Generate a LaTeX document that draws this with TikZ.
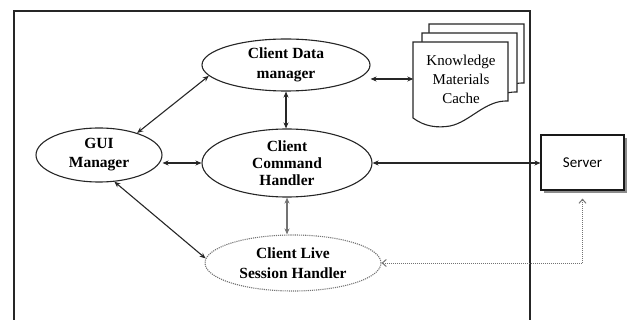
\documentclass[tikz,border=0pt]{standalone}
\usepackage{fontspec}
\setmainfont{Liberation Serif}
\newfontfamily\serverfont{Carlito}
\usetikzlibrary{shapes.geometric,arrows.meta}
\begin{document}
\begin{tikzpicture}[x=1pt,y=-1pt,
  ell/.style={ellipse,draw=black!85,line width=1.1pt,inner sep=0pt,align=center,fill=white},
  tipS/.tip={Stealth[length=6pt,width=5pt]},
  dbl/.style={tipS-tipS,line width=1.1pt,draw=black!85},
  dblgray/.style={tipS-tipS,line width=1.1pt,draw=black!55},
  dotarrow/.style={{Straight Barb[length=4pt,width=7pt]}-{Straight Barb[length=4pt,width=7pt]},densely dotted,line width=1pt,draw=black!55},
  doc/.style={draw=black!85,line width=1.1pt,fill=white}
]
\useasboundingbox (0,0) rectangle (628,320);
% outer frame (runs off the bottom)
\draw[line width=1.3pt,black!85] (14,320) -- (14,11) -- (530,11) -- (530,320);

% knowledge materials cache: stacked documents
\foreach \dx/\dy in {16/18, 9/9, 0/0} {
  \draw[doc,shift={(\dx,-\dy)}] (413,42) -- (508,42) -- (508,101)
    .. controls (485,100) and (470,122) .. (450,126)
    .. controls (438,128) and (425,127) .. (413,118) -- cycle;
}
\node[minimum width=95,minimum height=76,inner sep=0pt,align=center,
  font=\fontsize{15}{19}\selectfont] (kmc) at (461,79) {Knowledge\\Materials\\Cache};

% ellipses
\node[ell,minimum width=168,minimum height=52,font=\bfseries\fontsize{15.5}{20}\selectfont]
  (cdm) at (286,65) {Client Data\\manager};
\node[ell,minimum width=170,minimum height=68,font=\bfseries\fontsize{15.5}{17}\selectfont]
  (cch) at (287,163) {Client\\Command\\Handler};
\node[ell,minimum width=126,minimum height=54,font=\bfseries\fontsize{15.5}{19}\selectfont]
  (gui) at (99,155) {GUI\\Manager};
\node[ell,draw=black!55,densely dotted,minimum width=176,minimum height=56,
  font=\bfseries\fontsize{15.5}{20}\selectfont]
  (clsh) at (293,263) {Client Live\\Session Handler};

% server box with shadow
\fill[black!45] (544,138) rectangle (627,193);
\node[draw=black!90,line width=1.1pt,fill=white,minimum width=83,minimum height=55,
  inner sep=0pt,font=\serverfont\fontsize{15}{18}\selectfont] (server) at (582.5,162.5) {Server};

% connectors
\draw[dbl] (gui.30) -- (cdm.188);
\draw[dbl] (cdm.south) -- (cdm.south |- cch.north);
\draw[dbl] (gui.east |- cch.west) -- (cch.west);
\draw[dbl] (gui.-60) -- (clsh.177);
\draw[dbl] (cdm.east |- kmc.west) -- (kmc.west);
\draw[dbl] (cch.east) -- (cch.east -| server.west);
\draw[dblgray] (cch.south) -- (cch.south |- clsh.north);
\draw[dotarrow,shorten >=8pt] (clsh.east) -| (server.south);
\end{tikzpicture}
\end{document}
